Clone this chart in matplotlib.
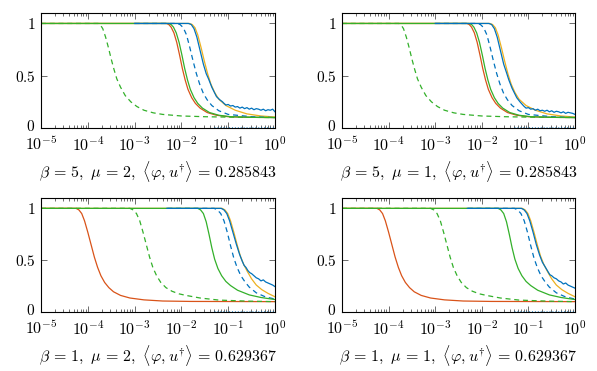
import numpy as np
import matplotlib
matplotlib.use("Agg")
import matplotlib.pyplot as plt
import matplotlib.transforms as mtransforms
from matplotlib.ticker import LogLocator, NullFormatter

plt.rcParams['mathtext.fontset'] = 'cm'
plt.rcParams['font.family'] = ['DejaVu Serif']

# ---------------- data (x given as log10 values) ----------------
# top row (beta = 5)
red_top_lx   = [-5, -2.32, -2.27, -2.22, -2.16, -2.10, -2.04, -1.98, -1.92, -1.86, -1.78, -1.70, -1.6, -1.45, -1.25, -1.0, -0.5, 0]
red_top_y    = [1.0, 1.0, 0.99, 0.965, 0.91, 0.82, 0.70, 0.57, 0.46, 0.37, 0.29, 0.235, 0.19, 0.148, 0.122, 0.108, 0.102, 0.1]
green_top_lx = [-5, -2.27, -2.22, -2.17, -2.11, -2.05, -1.99, -1.93, -1.87, -1.81, -1.73, -1.65, -1.55, -1.40, -1.20, -0.95, -0.5, 0]
green_top_y  = [1.0, 1.0, 0.99, 0.965, 0.91, 0.82, 0.70, 0.57, 0.46, 0.37, 0.29, 0.235, 0.19, 0.148, 0.122, 0.108, 0.102, 0.1]
bdash_top_lx = [-3.0, -2.1, -2.03, -1.96, -1.89, -1.82, -1.75, -1.68, -1.61, -1.53, -1.45, -1.35, -1.2, -1.0, -0.5, 0]
bdash_top_y  = [1.0, 1.0, 0.99, 0.96, 0.89, 0.77, 0.64, 0.52, 0.42, 0.33, 0.27, 0.215, 0.165, 0.13, 0.108, 0.1]
yel_top_lx   = [-5, -1.83, -1.77, -1.71, -1.65, -1.58, -1.51, -1.44, -1.37, -1.29, -1.2, -1.05, -0.85, -0.6, -0.3, 0]
yel_top_y    = [1.0, 1.0, 0.99, 0.96, 0.89, 0.77, 0.64, 0.52, 0.42, 0.34, 0.275, 0.215, 0.17, 0.135, 0.115, 0.105]
gdash_top_lx = [-5, -3.78, -3.73, -3.68, -3.62, -3.56, -3.50, -3.44, -3.38, -3.30, -3.20, -3.08, -2.95, -2.8, -2.6, -2.4, -2.0, -1.5, -1.0, 0]
gdash_top_y  = [1.0, 1.0, 0.985, 0.95, 0.87, 0.77, 0.66, 0.56, 0.47, 0.39, 0.31, 0.25, 0.205, 0.17, 0.145, 0.13, 0.115, 0.108, 0.104, 0.1]

blue_p1_lx = [-3.0, -1.85, -1.79, -1.73, -1.67, -1.60, -1.53, -1.47, -1.42, -1.35, -1.25, -1.18, -1.12,
              -1.10, -1.05, -1.00, -0.95, -0.90, -0.85, -0.80, -0.75, -0.70, -0.65, -0.60, -0.55,
              -0.50, -0.45, -0.40, -0.35, -0.30, -0.25, -0.20, -0.15, -0.10, -0.05, 0.0]
blue_p1_y  = [1.0, 1.0, 0.99, 0.95, 0.87, 0.74, 0.61, 0.52, 0.47, 0.39, 0.30, 0.27, 0.25,
              0.24, 0.22, 0.225, 0.21, 0.215, 0.20, 0.205, 0.19, 0.20, 0.185, 0.195, 0.18,
              0.19, 0.175, 0.185, 0.18, 0.17, 0.18, 0.165, 0.175, 0.17, 0.18, 0.155]
blue_p2_lx = [-3.0, -1.85, -1.79, -1.73, -1.67, -1.60, -1.53, -1.47, -1.42, -1.35, -1.25, -1.18, -1.12,
              -1.10, -1.05, -1.00, -0.95, -0.90, -0.85, -0.80, -0.75, -0.70, -0.65, -0.60, -0.55,
              -0.50, -0.45, -0.40, -0.35, -0.30, -0.25, -0.20, -0.15, -0.10, -0.05, 0.0]
blue_p2_y  = [1.0, 1.0, 0.99, 0.95, 0.87, 0.74, 0.61, 0.53, 0.46, 0.38, 0.29, 0.25, 0.22,
              0.21, 0.19, 0.195, 0.18, 0.185, 0.17, 0.18, 0.165, 0.17, 0.16, 0.17, 0.155,
              0.165, 0.15, 0.16, 0.155, 0.145, 0.155, 0.14, 0.15, 0.145, 0.14, 0.13]

# bottom row (beta = 1)
red_bot_lx   = [-5, -4.25, -4.19, -4.13, -4.07, -4.00, -3.93, -3.86, -3.79, -3.72, -3.64, -3.55, -3.45, -3.3, -3.1, -2.8, -2.4, -1.8, 0]
red_bot_y    = [1.0, 1.0, 0.985, 0.95, 0.88, 0.77, 0.65, 0.53, 0.43, 0.35, 0.285, 0.235, 0.195, 0.16, 0.135, 0.117, 0.106, 0.102, 0.1]
gdash_bot_lx = [-5, -3.1, -3.03, -2.96, -2.89, -2.82, -2.75, -2.68, -2.61, -2.53, -2.44, -2.33, -2.2, -2.05, -1.9, -1.6, -1.2, -0.6, 0]
gdash_bot_y  = [1.0, 1.0, 0.985, 0.95, 0.88, 0.77, 0.65, 0.53, 0.43, 0.35, 0.285, 0.235, 0.2, 0.175, 0.16, 0.135, 0.115, 0.105, 0.1]
green_bot_lx = [-5, -1.65, -1.59, -1.53, -1.47, -1.41, -1.35, -1.29, -1.22, -1.14, -1.05, -0.95, -0.8, -0.55, -0.3, 0]
green_bot_y  = [1.0, 1.0, 0.985, 0.95, 0.87, 0.75, 0.62, 0.51, 0.42, 0.35, 0.295, 0.255, 0.21, 0.165, 0.14, 0.12]
bdash_bot_lx = [-2.3, -1.3, -1.23, -1.16, -1.09, -1.02, -0.95, -0.88, -0.81, -0.73, -0.64, -0.55, -0.4, -0.2, 0]
bdash_bot_y  = [1.0, 1.0, 0.985, 0.95, 0.88, 0.77, 0.64, 0.52, 0.43, 0.35, 0.29, 0.24, 0.185, 0.145, 0.125]
yel_bot_lx   = [-5, -1.13, -1.07, -1.01, -0.95, -0.88, -0.81, -0.74, -0.67, -0.59, -0.5, -0.4, -0.28, -0.15, 0]
yel_bot_y    = [1.0, 1.0, 0.985, 0.95, 0.88, 0.77, 0.65, 0.54, 0.46, 0.39, 0.32, 0.26, 0.215, 0.18, 0.147]

blue_p3_lx = [-2.31, -1.15, -1.09, -1.03, -0.97, -0.90, -0.83, -0.76, -0.70, -0.66, -0.62, -0.58, -0.54, -0.50,
              -0.45, -0.40, -0.35, -0.30, -0.25, -0.20, -0.15, -0.10, -0.05, 0.0]
blue_p3_y  = [1.0, 1.0, 0.985, 0.95, 0.88, 0.77, 0.66, 0.56, 0.49, 0.45, 0.43, 0.40, 0.38, 0.37,
              0.35, 0.33, 0.32, 0.30, 0.31, 0.29, 0.28, 0.27, 0.26, 0.245]
blue_p4_lx = [-2.31, -1.15, -1.09, -1.03, -0.97, -0.90, -0.83, -0.76, -0.70, -0.66, -0.62, -0.58, -0.54, -0.50,
              -0.45, -0.40, -0.35, -0.30, -0.25, -0.20, -0.15, -0.10, -0.05, 0.0]
blue_p4_y  = [1.0, 1.0, 0.985, 0.95, 0.88, 0.77, 0.65, 0.55, 0.48, 0.45, 0.42, 0.39, 0.36, 0.35,
              0.33, 0.32, 0.30, 0.29, 0.27, 0.28, 0.26, 0.25, 0.24, 0.23]

bdot_lx = [-1.3, 0.0]
bdot_y  = [0.012, 0.012]

titles = [r"$\beta\,=\,5,\ \mu\,=\,2,\ \langle \varphi, u^{\dagger} \rangle\,=\,0.285843$",
          r"$\beta\,=\,5,\ \mu\,=\,1,\ \langle \varphi, u^{\dagger} \rangle\,=\,0.285843$",
          r"$\beta\,=\,1,\ \mu\,=\,2,\ \langle \varphi, u^{\dagger} \rangle\,=\,0.629367$",
          r"$\beta\,=\,1,\ \mu\,=\,1,\ \langle \varphi, u^{\dagger} \rangle\,=\,0.629367$"]

C_BLUE = '#0072BD'
C_RED = '#D95319'
C_YEL = '#EDB120'
C_GREEN = '#33B02A'

panels = [
    dict(red=(red_top_lx, red_top_y), yel=(yel_top_lx, yel_top_y), bdash=(bdash_top_lx, bdash_top_y),
         green=(green_top_lx, green_top_y), gdash=(gdash_top_lx, gdash_top_y), blue=(blue_p1_lx, blue_p1_y)),
    dict(red=(red_top_lx, red_top_y), yel=(yel_top_lx, yel_top_y), bdash=(bdash_top_lx, bdash_top_y),
         green=(green_top_lx, green_top_y), gdash=(gdash_top_lx, gdash_top_y), blue=(blue_p2_lx, blue_p2_y)),
    dict(red=(red_bot_lx, red_bot_y), yel=(yel_bot_lx, yel_bot_y), bdash=(bdash_bot_lx, bdash_bot_y),
         green=(green_bot_lx, green_bot_y), gdash=(gdash_bot_lx, gdash_bot_y), blue=(blue_p3_lx, blue_p3_y)),
    dict(red=(red_bot_lx, red_bot_y), yel=(yel_bot_lx, yel_bot_y), bdash=(bdash_bot_lx, bdash_bot_y),
         green=(green_bot_lx, green_bot_y), gdash=(gdash_bot_lx, gdash_bot_y), blue=(blue_p4_lx, blue_p4_y)),
]

W, H = 597, 371
fig = plt.figure(figsize=(W / 100, H / 100), dpi=100)

boxes = [(41, 13, 275, 128), (342, 13, 575, 128), (41, 198, 275, 312), (342, 198, 575, 312)]
title_y = [172, 172, 356, 356]

def X(lx):
    return 10.0 ** np.asarray(lx, dtype=float)

up_shift = mtransforms.ScaledTranslation(0, 3 / 100, fig.dpi_scale_trans)

for i, (b, p) in enumerate(zip(boxes, panels)):
    l, t, r, bt = b
    ax = fig.add_axes([l / W, 1 - bt / H, (r - l) / W, (bt - t) / H])
    lw = 0.9
    ax.plot(X(p['red'][0]), p['red'][1], color=C_RED, lw=lw)
    ax.plot(X(p['yel'][0]), p['yel'][1], color=C_YEL, lw=lw)
    ax.plot(X(p['bdash'][0]), p['bdash'][1], color=C_BLUE, lw=lw, dashes=(4, 3))
    ax.plot(X(p['green'][0]), p['green'][1], color=C_GREEN, lw=lw)
    ax.plot(X(p['gdash'][0]), p['gdash'][1], color=C_GREEN, lw=lw, dashes=(4, 3))
    ax.plot(X(p['blue'][0]), p['blue'][1], color=C_BLUE, lw=lw)
    ax.plot(X(bdot_lx), bdot_y, color=C_BLUE, lw=0.7, dashes=(1, 2), alpha=0.7)

    ax.set_xscale('log')
    ax.set_xlim(1e-5, 1)
    ax.set_ylim(0, 1.1)
    ax.xaxis.set_minor_locator(LogLocator(base=10, subs=np.arange(2, 10), numticks=20))
    ax.xaxis.set_minor_formatter(NullFormatter())
    ax.set_xticks([1e-5, 1e-4, 1e-3, 1e-2, 1e-1, 1e0])
    ax.set_xticklabels([r"$10^{-5}$", r"$10^{-4}$", r"$10^{-3}$", r"$10^{-2}$", r"$10^{-1}$", r"$10^{0}$"])
    ax.set_yticks([0, 0.5, 1])
    ax.set_yticklabels([r"$0$", r"$0.5$", r"$1$"])
    ax.tick_params(which='both', direction='in', top=True, right=True,
                   color='#555555', width=0.6)
    ax.tick_params(axis='x', which='major', labelsize=11.5, pad=6)
    ax.tick_params(axis='y', which='major', labelsize=11, pad=4)
    ax.tick_params(which='major', length=4)
    ax.tick_params(which='minor', length=2.5)
    ylabs = ax.get_yticklabels()
    for lab in ylabs:
        lab.set_verticalalignment('center_baseline')
    ylabs[0].set_transform(ylabs[0].get_transform() + up_shift)
    for s in ax.spines.values():
        s.set_linewidth(0.8)
    fig.text(((l + r) / 2) / W, 1 - title_y[i] / H, titles[i], ha='center', va='center', fontsize=11.5)

fig.savefig('out.png', dpi=100)
